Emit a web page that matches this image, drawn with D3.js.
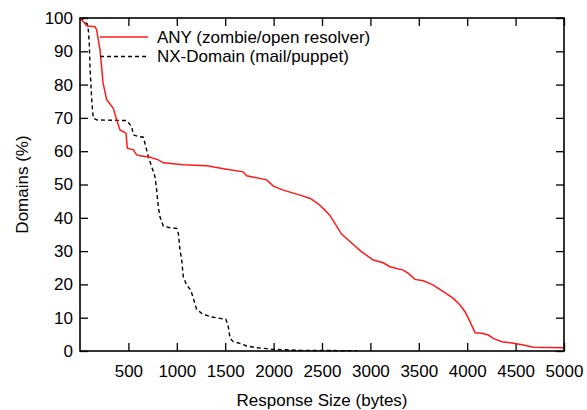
<!DOCTYPE html>
<html>
<head>
<meta charset="utf-8">
<script src="https://cdn.jsdelivr.net/npm/d3@7"></script>
<style>
  body { margin: 0; background: #fff; }
  svg text { font-family: "Liberation Sans", Arial, sans-serif; fill: #000; }
</style>
</head>
<body>
<div id="chart"></div>
<script>
// ANY (zombie/open resolver) - bytes vs % of domains
const anyBytes = [0, 18, 72, 155, 172, 207, 238, 276, 289, 344, 379, 413, 475, 489, 551, 586, 620, 723, 809, 861, 1067, 1309, 1515, 1687, 1722, 1929, 1997, 2100, 2273, 2380, 2460, 2520, 2580, 2640, 2700, 2800, 2900, 3030, 3133, 3202, 3340, 3392, 3461, 3547, 3650, 3753, 3857, 3926, 3977, 4029, 4081, 4150, 4218, 4270, 4356, 4478, 4581, 4684, 5000];
const anyPct   = [100, 99.4, 97.6, 97.4, 96.4, 90.4, 80.5, 75.4, 75, 72.9, 69.4, 66.4, 65.4, 60.9, 60.4, 58.9, 58.6, 58.2, 57.4, 56.5, 55.9, 55.6, 54.6, 53.8, 52.6, 51.4, 49.5, 48.3, 46.8, 45.8, 44.2, 42.6, 40.8, 38, 35.2, 32.6, 30, 27.3, 26.5, 25.3, 24.3, 23.3, 21.5, 21.1, 19.8, 17.8, 15.8, 13.8, 11.8, 8.8, 5.5, 5.3, 4.8, 3.8, 2.8, 2.3, 1.8, 1.1, 1.0];

// NX-Domain (mail/puppet)
const nxBytes = [0, 18, 75, 86, 96, 103, 121, 137, 173, 482, 534, 551, 602, 654, 671, 706, 741, 775, 792, 809, 826, 861, 930, 999, 1016, 1033, 1051, 1067, 1102, 1144, 1171, 1205, 1257, 1343, 1446, 1508, 1532, 1550, 1584, 1653, 1722, 1825, 1929, 1997, 2169, 2273, 2500, 2860];
const nxPct   = [100, 99.6, 98.2, 96.4, 92.4, 85.4, 75.4, 69.9, 69.4, 69.2, 67.4, 64.9, 64.4, 64.2, 62.4, 58.3, 55.3, 52.3, 48.3, 43.3, 40.3, 37.5, 37.0, 36.8, 35.3, 30.3, 27.3, 22.3, 19.8, 18.3, 15.8, 12.5, 11.3, 10.3, 9.8, 9.5, 7.3, 3.8, 2.8, 2.3, 1.5, 1.0, 0.7, 0.5, 0.3, 0.2, 0.15, 0.1];

const xTicks = [500, 1000, 1500, 2000, 2500, 3000, 3500, 4000, 4500, 5000];
const yTicks = [0, 10, 20, 30, 40, 50, 60, 70, 80, 90, 100];

const seriesNames = ["ANY (zombie/open resolver)", "NX-Domain (mail/puppet)"];

const W = 587, H = 410;
const plotL = 80, plotR = 564, plotT = 18, plotB = 351;

const svg = d3.select("#chart").append("svg")
  .attr("width", W)
  .attr("height", H);

const x = d3.scaleLinear().domain([0, 5000]).range([plotL, plotR]);
const y = d3.scaleLinear().domain([0, 100]).range([plotB, plotT]);

const fs = 17;
const fmt = d3.format("d");

// axes with inward ticks on all four sides
const gBottom = svg.append("g").attr("transform", `translate(0,${plotB})`)
  .call(d3.axisBottom(x).tickValues(xTicks).tickFormat(fmt).tickSize(-8).tickPadding(14));
const gTop = svg.append("g").attr("transform", `translate(0,${plotT})`)
  .call(d3.axisTop(x).tickValues(xTicks).tickSize(-8).tickFormat(""));
const gLeft = svg.append("g").attr("transform", `translate(${plotL},0)`)
  .call(d3.axisLeft(y).tickValues(yTicks).tickFormat(fmt).tickSize(-8).tickPadding(7));
const gRight = svg.append("g").attr("transform", `translate(${plotR},0)`)
  .call(d3.axisRight(y).tickValues(yTicks).tickSize(-8).tickFormat(""));

[gBottom, gTop, gLeft, gRight].forEach(g => {
  g.select(".domain").remove();
  g.selectAll("line").attr("stroke", "#000").attr("stroke-width", 1.3);
  g.selectAll("text")
    .attr("font-family", "Liberation Sans, Arial, sans-serif")
    .attr("font-size", fs)
    .attr("fill", "#000");
});

// data lines
const lineGen = d3.line()
  .x(d => x(d[0]))
  .y(d => y(d[1]));

const anyData = anyBytes.map((b, i) => [b, anyPct[i]]);
const nxData = nxBytes.map((b, i) => [b, nxPct[i]]);

svg.append("path")
  .datum(nxData)
  .attr("fill", "none")
  .attr("stroke", "#000")
  .attr("stroke-width", 1.4)
  .attr("stroke-dasharray", "4,3")
  .attr("d", lineGen);

svg.append("path")
  .datum(anyData)
  .attr("fill", "none")
  .attr("stroke", "#ff1a1a")
  .attr("stroke-width", 1.5)
  .attr("d", lineGen);

// frame
svg.append("rect")
  .attr("x", plotL)
  .attr("y", plotT)
  .attr("width", plotR - plotL)
  .attr("height", plotB - plotT)
  .attr("fill", "none")
  .attr("stroke", "#000")
  .attr("stroke-width", 1.6);

// legend
const legend = svg.append("g");
const legendRows = [
  { name: seriesNames[0], color: "#ff1a1a", dash: null, y: 37 },
  { name: seriesNames[1], color: "#000", dash: "4,3", y: 56.5 }
];
legendRows.forEach(r => {
  legend.append("line")
    .attr("x1", 100).attr("x2", 148)
    .attr("y1", r.y).attr("y2", r.y)
    .attr("stroke", r.color)
    .attr("stroke-width", 1.5)
    .attr("stroke-dasharray", r.dash);
  legend.append("text")
    .attr("x", 157)
    .attr("y", r.y)
    .attr("dy", "0.35em")
    .attr("font-size", fs)
    .text(r.name);
});

// axis titles
svg.append("text")
  .attr("x", (plotL + plotR) / 2)
  .attr("y", 406)
  .attr("text-anchor", "middle")
  .attr("font-size", fs)
  .text("Response Size (bytes)");

svg.append("text")
  .attr("transform", `translate(28,${(plotT + plotB) / 2}) rotate(-90)`)
  .attr("text-anchor", "middle")
  .attr("font-size", fs)
  .text("Domains (%)");
</script>
</body>
</html>
